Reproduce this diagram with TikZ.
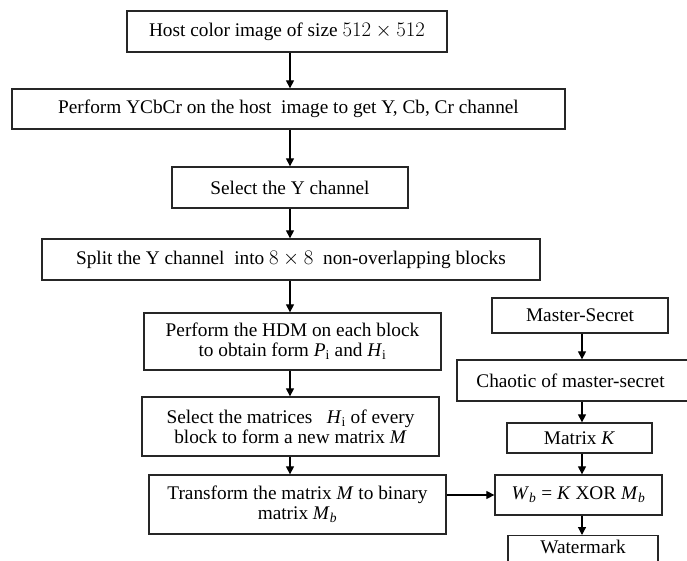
\documentclass[tikz,border=0pt]{standalone}
\usepackage{fontspec}
\setmainfont{Liberation Serif}
\usetikzlibrary{arrows.meta}
\tikzset{
  box/.style={draw=black!85, line width=1.3pt, rectangle, inner sep=0pt, align=center,
    font=\fontsize{19.3}{20}\selectfont},
  arr/.style={line width=1.2pt, -{Triangle[length=8pt,width=8pt]}}
}
\begin{document}
\begin{tikzpicture}[x=1pt,y=-1pt]
\useasboundingbox (0,0) rectangle (687,561);
\coordinate (cl) at (290,0);
\coordinate (cr) at (582,0);
\node[box, minimum width=320pt, minimum height=41pt] (b1) at (287,31.5) {Host color image of size $512\times512$};
\node[box, minimum width=553pt, minimum height=40pt] (b2) at (288.5,109) {Perform YCbCr on the host\ \ image to get Y, Cb, Cr channel};
\node[box, minimum width=236pt, minimum height=41pt] (b3) at (290,187.5) {Select the Y channel};
\node[box, minimum width=498pt, minimum height=41pt] (b4) at (291,259.5) {Split the Y channel\ \ into $8\times8$\ \ non-overlapping blocks};
\node[box, minimum width=297pt, minimum height=57pt] (b5) at (292.5,341.5) {Perform the HDM on each block\\to obtain form \textit{P}\textsubscript{i} and \textit{H}\textsubscript{i}};
\node[box, minimum width=297pt, minimum height=59pt] (b6) at (290.5,426.5) {Select the matrices\ \ \ \textit{H}\textsubscript{i} of every\\block to form a new matrix \textit{M}};
\node[box, minimum width=297pt, minimum height=59pt] (b7) at (297.5,504.5) {Transform the matrix \textit{M} to binary\\matrix \textit{M}\textsubscript{\textit{b}}};
\node[box, minimum width=176pt, minimum height=35pt] (r1) at (580,315.5) {Master-Secret};
\node[box, minimum width=233pt, minimum height=41pt] (r2) at (573.5,380.5) {\hspace*{-6pt}Chaotic of master-secret};
\node[box, minimum width=145pt, minimum height=30pt] (r3) at (579.5,438) {Matrix \textit{K}};
\node[box, minimum width=167pt, minimum height=40pt] (r4) at (578.5,495) {\textit{W}\textsubscript{\textit{b}} =\ \textit{K} XOR \textit{M}\textsubscript{\textit{b}}};
\node[box, minimum width=150pt, minimum height=30pt, anchor=north] (r5) at (583,535) {\raisebox{8pt}{Watermark}};
\draw[arr] (b1.south -| cl) -- (b2.north -| cl);
\draw[arr] (b2.south -| cl) -- (b3.north -| cl);
\draw[arr] (b3.south -| cl) -- (b4.north -| cl);
\draw[arr] (b4.south -| cl) -- (b5.north -| cl);
\draw[arr] (b5.south -| cl) -- (b6.north -| cl);
\draw[arr] (b6.south -| cl) -- (b7.north -| cl);
\draw[arr] (r1.south -| cr) -- (r2.north -| cr);
\draw[arr] (r2.south -| cr) -- (r3.north -| cr);
\draw[arr] (r3.south -| cr) -- (r4.north -| cr);
\draw[arr] (r4.south -| cr) -- (r5.north -| cr);
\draw[arr] (b7.east |- r4.west) -- (r4.west);
\end{tikzpicture}
\end{document}
